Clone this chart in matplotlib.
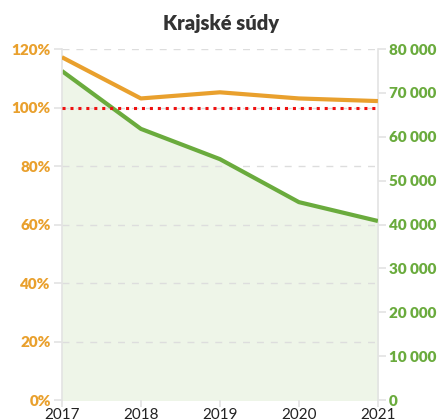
import numpy as np
import matplotlib.pyplot as plt
from matplotlib.ticker import FuncFormatter

years = [2017, 2018, 2019, 2020, 2021]
clearance_pct = [117.2, 103.1, 105.2, 103.1, 102.2]
pending_cases = [75000, 61800, 54900, 45100, 40800]
pct_ticks = [0, 20, 40, 60, 80, 100, 120]
count_ticks = [0, 10000, 20000, 30000, 40000, 50000, 60000, 70000, 80000]

orange = '#e9a02d'
green = '#6aab3d'
axis_grey = '#e3e3e3'

plt.rcParams['font.family'] = ['Lato', 'DejaVu Sans']

fig = plt.figure(figsize=(4.42, 4.20), dpi=100)
ax = fig.add_axes([0.140, 0.0476, 0.715, 0.8357])
ax2 = ax.twinx()

# green series on the right axis, with light fill
ax2.fill_between(years, pending_cases, 0, color='#eef5e8', zorder=1)
ax2.plot(years, pending_cases, color=green, linewidth=3, solid_capstyle='butt', zorder=3)
ax2.set_ylim(0, 80000)
ax2.set_yticks(count_ticks)
ax2.yaxis.set_major_formatter(FuncFormatter(lambda v, p: f"{int(v):,}".replace(',', ' ')))

# orange series on the left axis, drawn above
ax.set_zorder(ax2.get_zorder() + 1)
ax.patch.set_visible(False)
ax.axhline(100, color='#ee1111', linestyle=(0, (1, 1.6)), linewidth=2.2, zorder=3)
ax.plot(years, clearance_pct, color=orange, linewidth=3, solid_capstyle='butt', zorder=4)
ax.set_ylim(0, 120)
ax.set_yticks(pct_ticks)
ax.yaxis.set_major_formatter(FuncFormatter(lambda v, p: f"{int(v)}%"))
for t in pct_ticks[1:]:
    ax2.axhline(t / 120 * 80000, color='#dddddd', linestyle=(0, (5, 5)), linewidth=1, zorder=2)

ax.set_xlim(2017, 2021)
ax.set_xticks(years)

for a in (ax, ax2):
    for s in a.spines.values():
        s.set_visible(False)
ax.spines['left'].set_visible(True)
ax.spines['left'].set_color(axis_grey)
ax.spines['left'].set_linewidth(1.2)
ax2.spines['right'].set_visible(True)
ax2.spines['right'].set_color(axis_grey)
ax2.spines['right'].set_linewidth(1.2)

ax.tick_params(axis='y', colors=axis_grey, labelcolor=orange, length=6, width=1.2, labelsize=11, pad=2)
ax2.tick_params(axis='y', colors=axis_grey, labelcolor=green, length=6, width=1.2, labelsize=11, pad=2)
ax.tick_params(axis='x', colors=axis_grey, labelcolor='#222222', length=5, width=1.2, labelsize=11, pad=1)
for lbl in ax.get_yticklabels() + ax2.get_yticklabels():
    lbl.set_fontweight('heavy')

fig.text(0.5, 0.943, 'Krajské súdy', ha='center', va='center', fontsize=14.5,
         fontweight='heavy', color='#333333')

fig.savefig('out.png', dpi=100)
